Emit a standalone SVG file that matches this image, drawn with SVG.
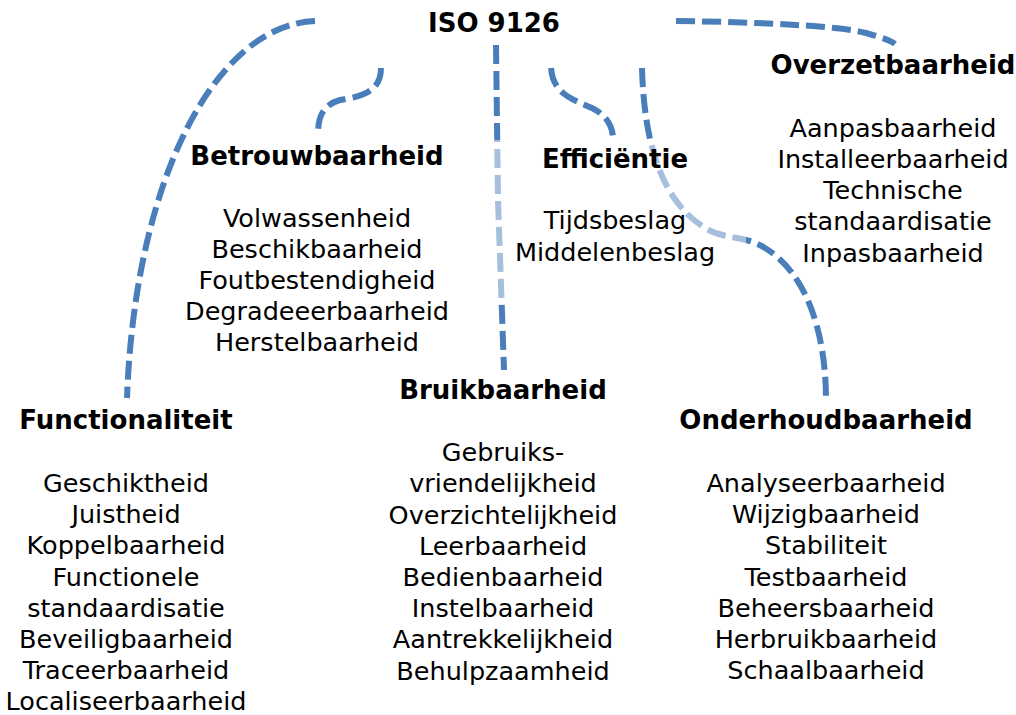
<svg xmlns="http://www.w3.org/2000/svg" width="1016" height="715" viewBox="0 0 1016 715">
<style>
.c{fill:none;stroke:#4a7ebb;stroke-width:6;stroke-dasharray:19 7}
.h{font-family:"DejaVu Sans","Liberation Sans",sans-serif;font-size:26px;font-weight:bold;fill:#000;text-anchor:middle}
.t{font-family:"DejaVu Sans","Liberation Sans",sans-serif;font-size:25.5px;fill:#000;text-anchor:middle}
</style>
<rect width="1016" height="715" fill="#fff"/>
<g id="connectors">
<path class="c" d="M315 21 C215 25 135 180 127 398"/>
<path class="c" d="M381 68 C381 95 355 97 340 100 C322 105 318 118 318 134"/>
<path class="c" d="M496 45 L498 200 L504 370"/>
<path class="c" d="M551 68 C553 95 575 100 592 108 C606 115 612 125 613 137"/>
<path class="c" d="M642 68 C644 140 660 200 705 228 C725 240 745 235 765 248 C805 272 826 330 826 400"/>
<path class="c" d="M676 21 C760 22 840 26 866 33 C880 37 890 40 895 44"/>
<rect x="488" y="140" width="258" height="163" fill="#fff" fill-opacity="0.5"/>
</g>
<g id="iso"><text class="h" x="494" y="32">ISO 9126</text></g>
<g id="betrouwbaarheid">
<text class="h" x="317" y="165">Betrouwbaarheid</text>
<text class="t" x="317" y="227"><tspan x="317">Volwassenheid</tspan><tspan x="317" dy="31">Beschikbaarheid</tspan><tspan x="317" dy="31">Foutbestendigheid</tspan><tspan x="317" dy="31">Degradeeerbaarheid</tspan><tspan x="317" dy="31">Herstelbaarheid</tspan></text>
</g>
<g id="efficientie">
<text class="h" x="615" y="168">Efficiëntie</text>
<text class="t" x="615" y="229"><tspan x="615">Tijdsbeslag</tspan><tspan x="615" dy="32">Middelenbeslag</tspan></text>
</g>
<g id="overzetbaarheid">
<text class="h" x="893" y="74">Overzetbaarheid</text>
<text class="t" x="893" y="137"><tspan x="893">Aanpasbaarheid</tspan><tspan x="893" dy="31">Installeerbaarheid</tspan><tspan x="893" dy="31">Technische</tspan><tspan x="893" dy="31">standaardisatie</tspan><tspan x="893" dy="32">Inpasbaarheid</tspan></text>
</g>
<g id="functionaliteit">
<text class="h" x="126" y="429">Functionaliteit</text>
<text class="t" x="126" y="492"><tspan x="126">Geschiktheid</tspan><tspan x="126" dy="31">Juistheid</tspan><tspan x="126" dy="31">Koppelbaarheid</tspan><tspan x="126" dy="32">Functionele</tspan><tspan x="126" dy="31">standaardisatie</tspan><tspan x="126" dy="31">Beveiligbaarheid</tspan><tspan x="126" dy="31">Traceerbaarheid</tspan><tspan x="126" dy="31">Localiseerbaarheid</tspan></text>
</g>
<g id="bruikbaarheid">
<text class="h" x="503" y="399">Bruikbaarheid</text>
<text class="t" x="503" y="461"><tspan x="503">Gebruiks-</tspan><tspan x="503" dy="31">vriendelijkheid</tspan><tspan x="503" dy="32">Overzichtelijkheid</tspan><tspan x="503" dy="31">Leerbaarheid</tspan><tspan x="503" dy="31">Bedienbaarheid</tspan><tspan x="503" dy="31">Instelbaarheid</tspan><tspan x="503" dy="31">Aantrekkelijkheid</tspan><tspan x="503" dy="32">Behulpzaamheid</tspan></text>
</g>
<g id="onderhoudbaarheid">
<text class="h" x="826" y="429">Onderhoudbaarheid</text>
<text class="t" x="826" y="492"><tspan x="826">Analyseerbaarheid</tspan><tspan x="826" dy="31">Wijzigbaarheid</tspan><tspan x="826" dy="31">Stabiliteit</tspan><tspan x="826" dy="32">Testbaarheid</tspan><tspan x="826" dy="31">Beheersbaarheid</tspan><tspan x="826" dy="31">Herbruikbaarheid</tspan><tspan x="826" dy="31">Schaalbaarheid</tspan></text>
</g>
</svg>
